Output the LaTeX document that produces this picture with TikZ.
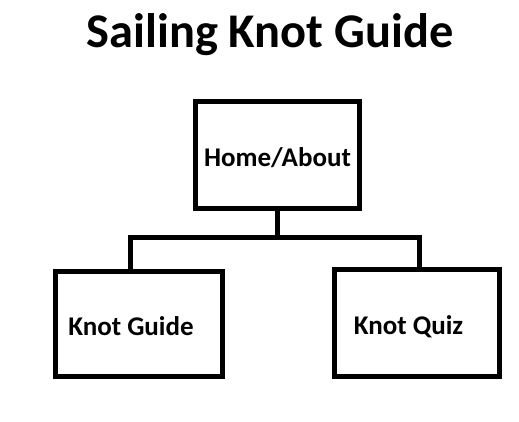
\documentclass[tikz,border=0pt]{standalone}
\usepackage{fontspec}
\setmainfont{Carlito}
\usetikzlibrary{positioning}

\begin{document}
\begin{tikzpicture}[x=1pt, y=-1pt, node distance=1cm,
        page/.style={draw, line width=5pt, minimum width=165pt, minimum height=107pt, text height=23pt, text depth=0pt, font=\fontsize{27}{32}\selectfont\bfseries}]
            \useasboundingbox (0,0) rectangle (519,421);

            \node (0) [
                font=\fontsize{48.4}{58}\selectfont\bfseries
            ] at (270,35) {Sailing Knot Guide};

            \node (1) [
                page,
                minimum width=164pt
            ] at (277.5,155) {Home/About};

            \node (2) [
                page,
                minimum width=167pt,
                minimum height=105pt
            ] at (138.5,323.5) {\hspace*{-15pt}Knot Guide};

            \node (3) [
                page,
                minimum height=107.5pt
            ] at (416.5,323) {\hspace*{-16pt}Knot Quiz};

            \draw[line width=5pt] (1.south) -- ++(0,26.5) coordinate (bar);
            \draw[line width=5pt] ([xshift=-8.5pt]2.north) |- (bar) -| ([xshift=2.5pt]3.north);
        \end{tikzpicture}
\end{document}
